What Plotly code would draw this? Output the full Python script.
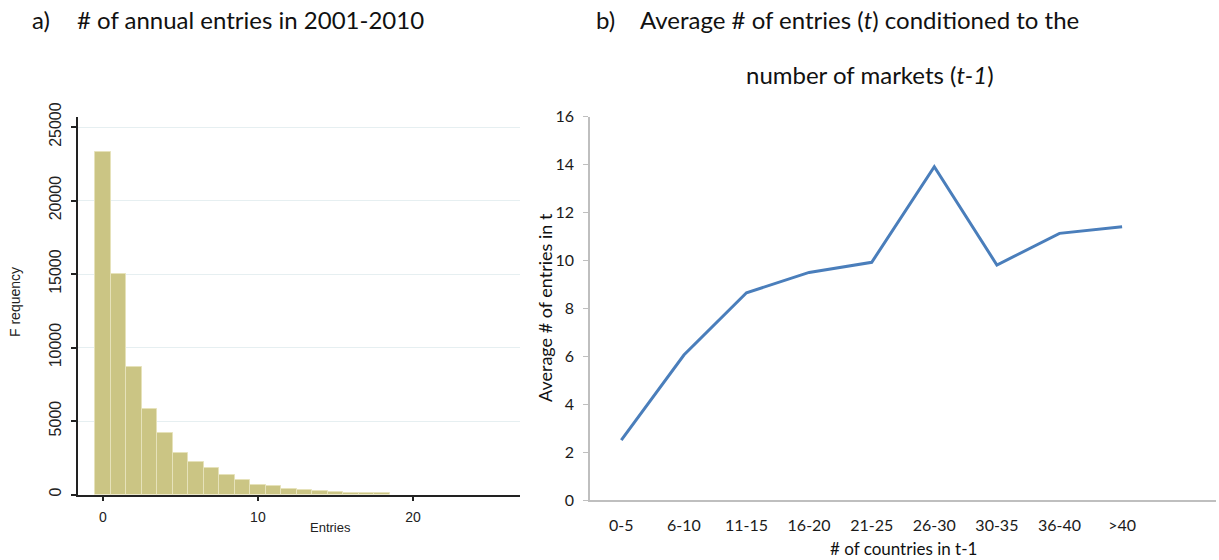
import plotly.graph_objects as go

# ---- data: panel a (histogram of annual entries) ----
entries = [0, 1, 2, 3, 4, 5, 6, 7, 8, 9, 10, 11, 12, 13, 14, 15, 16, 17, 18]
frequency = [23300, 15000, 8700, 5800, 4150, 2850, 2220, 1790, 1340, 1020,
             680, 560, 350, 340, 230, 140, 135, 130, 125]
hist_yticks = [0, 5000, 10000, 15000, 20000, 25000]
hist_yticklabels = ["0", "5000", "10000", "15000", "20000", "25000"]
hist_xticks = [0, 10, 20]

# ---- data: panel b (average entries by number of markets) ----
country_bins = ["0-5", "6-10", "11-15", "16-20", "21-25", "26-30", "30-35", "36-40", ">40"]
avg_entries = [2.5, 6.05, 8.65, 9.5, 9.92, 13.91, 9.81, 11.13, 11.41]
line_yticks = [0, 2, 4, 6, 8, 10, 12, 14, 16]

# the page body margin is removed (post_script), so figure pixels = page pixels
W, H = 1219, 560
def fx(px):
    return min(1.0, max(0.0, px / W))
def fy(py):
    return min(1.0, max(0.0, 1 - py / H))

# right panel category slot geometry (pixels)
R_LEFT, R_RIGHT, SLOT = 590, 1216, 62.6
r_range_hi = -0.5 + (R_RIGHT - R_LEFT) / SLOT

fig = go.Figure()

fig.add_trace(go.Bar(
    x=entries, y=frequency, width=1,
    marker=dict(color="#cbc584", line=dict(color="#e6e2ba", width=1)),
    xaxis="x", yaxis="y", showlegend=False,
))

fig.add_trace(go.Scatter(
    x=country_bins, y=avg_entries, mode="lines",
    line=dict(color="#4a7ebb", width=3),
    xaxis="x2", yaxis="y2", showlegend=False,
))

stata_font = dict(family="Liberation Sans", size=14, color="#222222")
stata_yfont = dict(family="Liberation Sans", size=16, color="#222222")
excel_font = dict(family="Lato", size=16, color="#1a1a1a")

fig.update_layout(
    width=W, height=H,
    margin=dict(l=0, r=0, t=0, b=0, pad=0, autoexpand=False),
    paper_bgcolor="white", plot_bgcolor="white",
    bargap=0, showlegend=False,
    xaxis=dict(
        domain=[fx(78), fx(520)], anchor="y", automargin=False,
        range=[-1.6, 26.9],
        tickvals=hist_xticks, ticks="outside", ticklen=5, tickwidth=1.5,
        tickcolor="#222222", showline=True, linecolor="#222222", linewidth=1.5,
        showgrid=False, zeroline=False, tickfont=stata_font,
        ticklabelstandoff=4,
    ),
    yaxis=dict(
        domain=[fy(494.5), fy(117)], anchor="x", automargin=False,
        range=[0, 25680],
        tickvals=hist_yticks, ticktext=hist_yticklabels,
        ticks="outside", ticklen=5, tickwidth=1.5,
        tickcolor="#222222", showline=True, linecolor="#222222", linewidth=1.5,
        showgrid=True, gridcolor="#e6eff1", gridwidth=1, zeroline=False,
        tickangle=-90, tickfont=stata_yfont, ticklabelstandoff=4,
    ),
    xaxis2=dict(
        domain=[fx(R_LEFT), fx(R_RIGHT)], anchor="y2", automargin=False,
        type="category", categoryarray=country_bins, range=[-0.5, r_range_hi],
        ticks="", showline=True, linecolor="#bfbfbf", linewidth=1.5,
        showgrid=False, zeroline=False, tickfont=excel_font,
        ticklabelstandoff=10,
    ),
    yaxis2=dict(
        domain=[fy(500), fy(116.7)], anchor="x2", automargin=False,
        range=[0, 16], tickvals=line_yticks,
        ticks="outside", ticklen=5, tickcolor="#bfbfbf",
        showline=True, linecolor="#bfbfbf", linewidth=1.5,
        showgrid=False, zeroline=False, tickfont=excel_font,
        ticklabelstandoff=6,
    ),
)

title_font = dict(family="Lato", size=24, color="#111111")
ann = [
    dict(text="a)", x=fx(30), y=fy(20), xanchor="left", font=title_font),
    dict(text="# of annual entries in 2001-2010", x=fx(75), y=fy(20), xanchor="left", font=title_font),
    dict(text="b)", x=fx(594), y=fy(20), xanchor="left", font=title_font),
    dict(text="Average # of entries (<i>t</i>) conditioned to the", x=fx(638), y=fy(20),
         xanchor="left", font=title_font),
    dict(text="number of markets (<i>t-1</i>)", x=fx(870), y=fy(75), xanchor="center", font=title_font),
    dict(text="F requency", x=fx(15), y=fy(302), xanchor="center", textangle=-90,
         font=dict(family="Liberation Sans", size=14, color="#222222")),
    dict(text="Entries", x=fx(330), y=fy(527), xanchor="center",
         font=dict(family="Liberation Sans", size=13, color="#222222")),
    dict(text="Average # of entries in t", x=fx(545), y=fy(308), xanchor="center", textangle=-90,
         font=dict(family="Lato", size=18, color="#111111")),
    dict(text="# of countries in t-1", x=fx(903), y=fy(548), xanchor="center",
         font=dict(family="Lato", size=17, color="#111111")),
]
for a in ann:
    a.update(xref="paper", yref="paper", showarrow=False, yanchor="middle")
fig.update_layout(annotations=ann)

fig.write_html("out.html", config={"displayModeBar": False},
               post_script="document.body.style.margin='0px';")
